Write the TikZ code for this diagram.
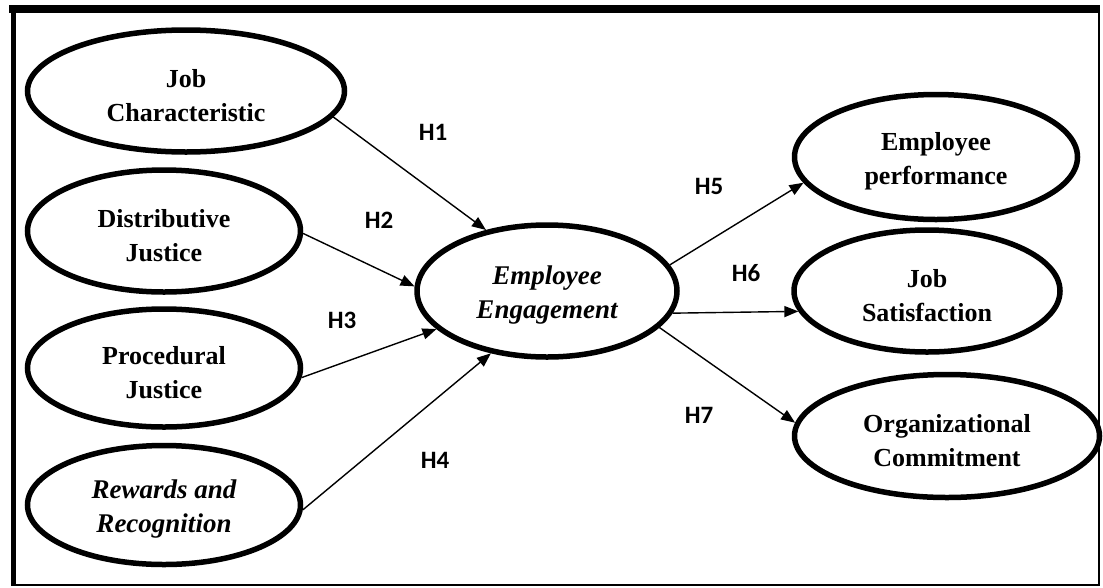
\documentclass[tikz,border=0pt]{standalone}
\usepackage{fontspec}
\setmainfont{Liberation Serif}
\newfontfamily\hfont{Carlito}
\usetikzlibrary{shapes.geometric,arrows.meta}
\newcommand\toppad{\rule{0pt}{27pt}}
\tikzset{
  var/.style={ellipse, draw, line width=5.5pt, align=center, inner sep=0pt,
    font=\fontsize{26}{34}\selectfont\bfseries},
  ital/.style={font=\fontsize{27}{34}\selectfont\bfseries\itshape},
  hyp/.style={font=\hfont\fontsize{25}{28}\selectfont\bfseries, inner sep=0pt},
  link/.style={line width=1.4pt, -{Triangle[length=14pt,width=11pt]}},
}
\begin{document}
\begin{tikzpicture}[x=1pt,y=-1pt]
\useasboundingbox (0,0) rectangle (1103,587);
% frame
\draw[line width=8pt] (9,9) -- (1100,9);
\draw[line width=5pt] (13,5) -- (13,586);
\draw[line width=2.5pt] (1099,5) -- (1099,586);
\draw[line width=2pt] (13,585) -- (1100,585);
% variables
\node[var, minimum width=317pt, minimum height=122pt] (jc) at (186,91) {\toppad Job\\Characteristic};
\node[var, minimum width=273pt, minimum height=122pt] (dj) at (164,231) {\toppad Distributive\\Justice};
\node[var, minimum width=273pt, minimum height=118pt] (pj) at (164,368) {\toppad Procedural\\Justice};
\node[var, ital, minimum width=273pt, minimum height=119pt] (rr) at (164,505) {\toppad Rewards and\\Recognition};
\node[var, ital, minimum width=260pt, minimum height=132pt] (ee) at (547,291) {\toppad Employee\\Engagement};
\node[var, minimum width=283pt, minimum height=125pt] (ep) at (936,157) {\toppad Employee\\performance};
\node[var, minimum width=266pt, minimum height=122pt] (js) at (927,291) {\toppad Job\\Satisfaction};
\node[var, minimum width=305pt, minimum height=123pt] (oc) at (947,436) {\toppad Organizational\\Commitment};
% links
\draw[link] (jc.-10) -- (ee.135);
\draw[link] (dj.-1) -- (ee.178);
\draw[link] (pj.-4) -- (ee.-161);
\draw[link] (rr.-2) -- (ee.-132);
\draw[link] (ee.12) -- (ep.-169);
\draw[link] (ee.-10) -- (js.-171);
\draw[link] (ee.-18) -- (oc.175);
% hypothesis labels
\node[hyp] (h1) at (433,132) {H1};
\node[hyp] (h2) at (379,220) {H2};
\node[hyp] (h3) at (342,320) {H3};
\node[hyp] (h4) at (435,460) {H4};
\node[hyp] (h5) at (709,186) {H5};
\node[hyp] (h6) at (746,273) {H6};
\node[hyp] (h7) at (699,415) {H7};
\end{tikzpicture}
\end{document}
